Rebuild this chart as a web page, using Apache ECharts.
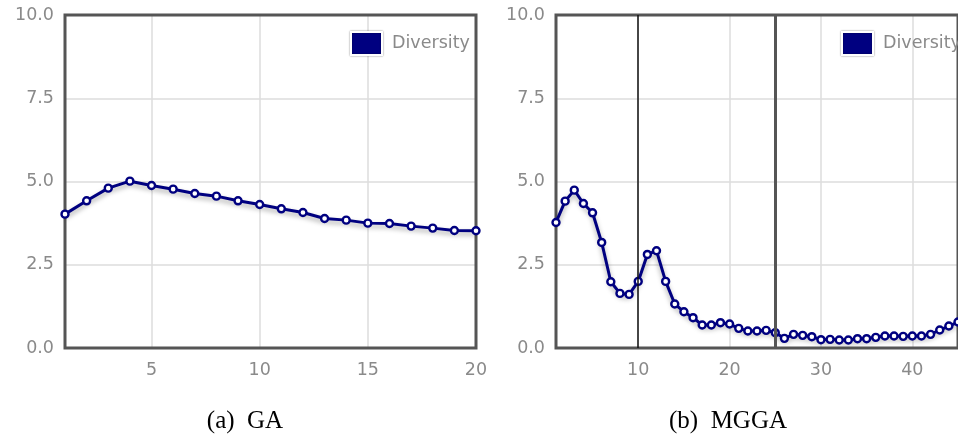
<!DOCTYPE html>
<html>
<head>
<meta charset="utf-8">
<title>Diversity: GA vs MGGA</title>
<script src="https://cdn.jsdelivr.net/npm/echarts@6/dist/echarts.min.js"></script>
<style>
  html, body { margin: 0; padding: 0; background: #fff; }
  #chart { width: 958px; height: 434px; }
</style>
</head>
<body>
<div id="chart"></div>
<script>
// Population diversity per generation, plain GA
const gaDiversity = [
  4.02, 4.42, 4.80, 5.01, 4.88, 4.77, 4.64, 4.56, 4.42, 4.31,
  4.18, 4.07, 3.89, 3.84, 3.75, 3.74, 3.66, 3.60, 3.53, 3.52
];
// Population diversity per generation, multi-stage GA
const mggaDiversity = [
  3.77, 4.41, 4.74, 4.34, 4.06, 3.17, 1.99, 1.64, 1.61, 2.00,
  2.81, 2.92, 2.00, 1.32, 1.09, 0.91, 0.69, 0.69, 0.76, 0.72,
  0.59, 0.51, 0.51, 0.53, 0.46, 0.29, 0.41, 0.38, 0.34, 0.25,
  0.26, 0.24, 0.24, 0.28, 0.28, 0.32, 0.36, 0.36, 0.35, 0.36,
  0.36, 0.41, 0.54, 0.66, 0.78
];
// Generations where MGGA switches stage
const stageBoundaries = [10, 25];
const gaTicks = [5, 10, 15, 20];
const mggaTicks = [10, 20, 30, 40];
const yTicks = [0, 2.5, 5, 7.5, 10];
const seriesName = 'Diversity';
const captions = ['(a)  GA', '(b)  MGGA'];

const NAVY = '#000080';
const FONT = 'DejaVu Sans';
const LABEL_SIZE = 17.5;

const withGen = vals => vals.map((v, i) => [i + 1, v]);

function xAxisFor(gridIndex, max, ticks) {
  return {
    type: 'value', gridIndex, min: 1, max, z: 0,
    axisLine: { show: false },
    axisTick: { show: false, customValues: ticks },
    axisLabel: {
      customValues: ticks, margin: 13,
      color: '#8a8a8a', fontFamily: FONT, fontSize: LABEL_SIZE
    },
    splitLine: { show: true, lineStyle: { color: '#dcdcdc', width: 1.5 } }
  };
}
function yAxisFor(gridIndex) {
  return {
    type: 'value', gridIndex, z: 0,
    min: yTicks[0], max: yTicks[yTicks.length - 1], interval: yTicks[1] - yTicks[0],
    axisLine: { show: false }, axisTick: { show: false },
    axisLabel: {
      margin: 11, color: '#8a8a8a', fontFamily: FONT, fontSize: LABEL_SIZE,
      formatter: v => v.toFixed(1)
    },
    splitLine: { show: true, lineStyle: { color: '#dcdcdc', width: 1.5 } }
  };
}
function lineSeries(idx, data, extra) {
  return Object.assign({
    name: seriesName, type: 'line',
    xAxisIndex: idx, yAxisIndex: idx,
    data, clip: false, z: 3,
    symbol: 'circle', symbolSize: 7, showAllSymbol: true,
    lineStyle: {
      color: NAVY, width: 3,
      shadowColor: 'rgba(0,0,0,0.35)', shadowBlur: 5, shadowOffsetY: 3
    },
    itemStyle: { color: '#fff', borderColor: NAVY, borderWidth: 2.4 },
    emphasis: { disabled: true },
    animation: false
  }, extra || {});
}
function legendAt(left) {
  return {
    data: [{ name: seriesName, itemStyle: { color: NAVY } }],
    left, top: 31, padding: 0,
    icon: 'rect', itemWidth: 31, itemHeight: 23,
    itemStyle: {
      color: NAVY, borderColor: '#fff', borderWidth: 2,
      shadowColor: 'rgba(0,0,0,0.45)', shadowBlur: 2
    },
    textStyle: { color: '#8a8a8a', fontFamily: FONT, fontSize: LABEL_SIZE, padding: [0, 0, 0, 5] },
    selectedMode: false
  };
}
function gridAt(left) {
  return {
    left, top: 15, width: 411, height: 333, z: 1,
    show: true, borderColor: '#555', borderWidth: 3, backgroundColor: 'transparent'
  };
}

const chart = echarts.init(document.getElementById('chart'), null, { renderer: 'canvas' });
chart.setOption({
  animation: false,
  backgroundColor: '#fff',
  grid: [gridAt(65), gridAt(556)],
  xAxis: [xAxisFor(0, gaDiversity.length, gaTicks), xAxisFor(1, mggaDiversity.length, mggaTicks)],
  yAxis: [yAxisFor(0), yAxisFor(1)],
  legend: [legendAt(350), legendAt(841)],
  series: [
    lineSeries(0, withGen(gaDiversity)),
    lineSeries(1, withGen(mggaDiversity), {
      markLine: {
        silent: true, symbol: 'none', label: { show: false },
        animation: false,
        data: [
          { xAxis: stageBoundaries[0], lineStyle: { color: '#111', width: 1.5, type: 'solid' } },
          { xAxis: stageBoundaries[1], lineStyle: { color: '#555', width: 3, type: 'solid' } }
        ]
      }
    })
  ],
  graphic: [
    { type: 'text', x: 245, y: 421, style: { text: captions[0], font: '25px "Liberation Serif"', fill: '#000', textAlign: 'center', textVerticalAlign: 'middle' } },
    { type: 'text', x: 728, y: 421, style: { text: captions[1], font: '25px "Liberation Serif"', fill: '#000', textAlign: 'center', textVerticalAlign: 'middle' } }
  ]
});
</script>
</body>
</html>
